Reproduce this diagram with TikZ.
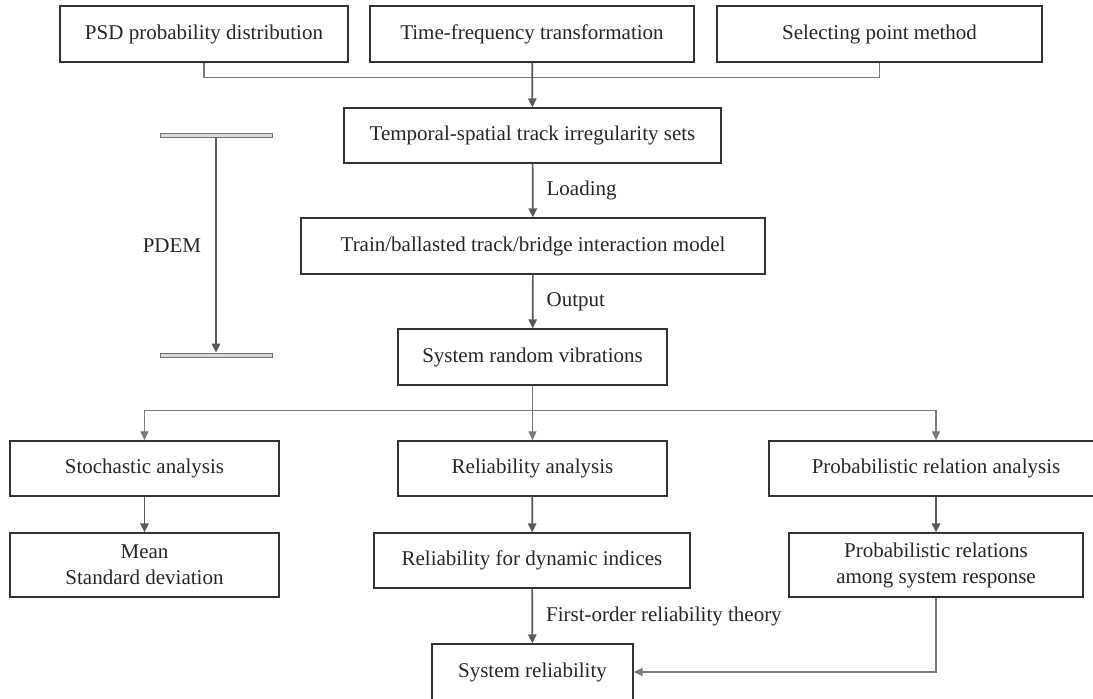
\documentclass[tikz,border=0pt]{standalone}
\usepackage{fontspec}
\setmainfont{Liberation Serif}
\usetikzlibrary{arrows.meta}
\tikzset{
  box/.style={draw=black!80, line width=1.4pt, text=black!85, minimum height=56pt, inner sep=0pt, align=center},
  arr/.style={draw=black!65, line width=1.7pt, -{Triangle[length=9pt,width=8.5pt]}},
  bus/.style={draw=black!52, line width=1.2pt},
  busarr/.style={bus, -{Triangle[length=9pt,width=8pt]}},
  bar/.style={draw=black!55, fill=black!15, line width=0.9pt, minimum width=112pt, minimum height=4pt, inner sep=0pt},
  lbl/.style={text=black!85, inner sep=0pt}
}

\begin{document}
\begin{tikzpicture}[x=1pt, y=-1pt, font=\fontsize{21}{26}\selectfont]
\useasboundingbox (0,0) rectangle (1093,699);
\clip (0,0) rectangle (1093,699);

% inputs
\foreach \name/\x/\w/\txt in {psd/204/288/PSD probability distribution, tft/532/324/Time-frequency transformation, spm/879.5/325/Selecting point method}
{
  \node[box, minimum width=\w pt] (\name) at (\x,34) {\txt};
}
\node[box, minimum width=377pt, minimum height=55pt] (tsi) at (532.5,135.5) {Temporal-spatial track irregularity sets};
\node[box, minimum width=464pt] (tbi) at (533,246) {Train/ballasted track/bridge interaction model};
\node[box, minimum width=269pt] (srv) at (532.5,357) {System random vibrations};

% analyses
\foreach \name/\x/\w/\txt in {sto/144.5/269/Stochastic analysis, rel/532.5/269/Reliability analysis, pra/936/334/Probabilistic relation analysis}
{
  \node[box, minimum width=\w pt, minimum height=55pt] (\name) at (\x,468.5) {\txt};
}
\node[box, minimum width=269pt, minimum height=64pt] (msd) at (144.5,565) {Mean\\Standard deviation};
\node[box, minimum width=316pt, minimum height=55pt] (rdi) at (532,560.5) {Reliability for dynamic indices};
\node[box, minimum width=294pt, minimum height=64pt] (prs) at (936,565) {Probabilistic relations\\among system response};
\node[box, minimum width=201pt] (sys) at (532.5,672) {System reliability};

% PDEM range
\node[bar] (pdemtop) at (216,135.5) {};
\node[bar] (pdembot) at (216,355) {};
\draw[arr] (pdemtop) -- node[lbl, left=14pt] {PDEM} (pdembot);

\draw[bus] (psd.south) -- ++(0,15) -| (spm.south);
\draw[arr] (tft) -- (tsi);
\draw[arr] (tsi) -- node[lbl, right=13pt] {Loading} (tbi);
\draw[arr] (tbi) -- node[lbl, right=13pt] {Output} (srv);

\path (srv.south) ++(0,25) coordinate (fan);
\draw[busarr] (srv) -- (rel);
\draw[busarr] (fan) -| (sto.north);
\draw[busarr] (fan) -| (pra.north);

\draw[arr] (sto) -- (msd);
\draw[arr] (rel) -- (rdi);
\draw[arr] (pra) -- (prs);
\draw[arr] (rdi) -- node[lbl, right=13pt] {First-order reliability theory} (sys);
\draw[busarr] (prs.south) |- (sys.east);
\end{tikzpicture}
\end{document}
